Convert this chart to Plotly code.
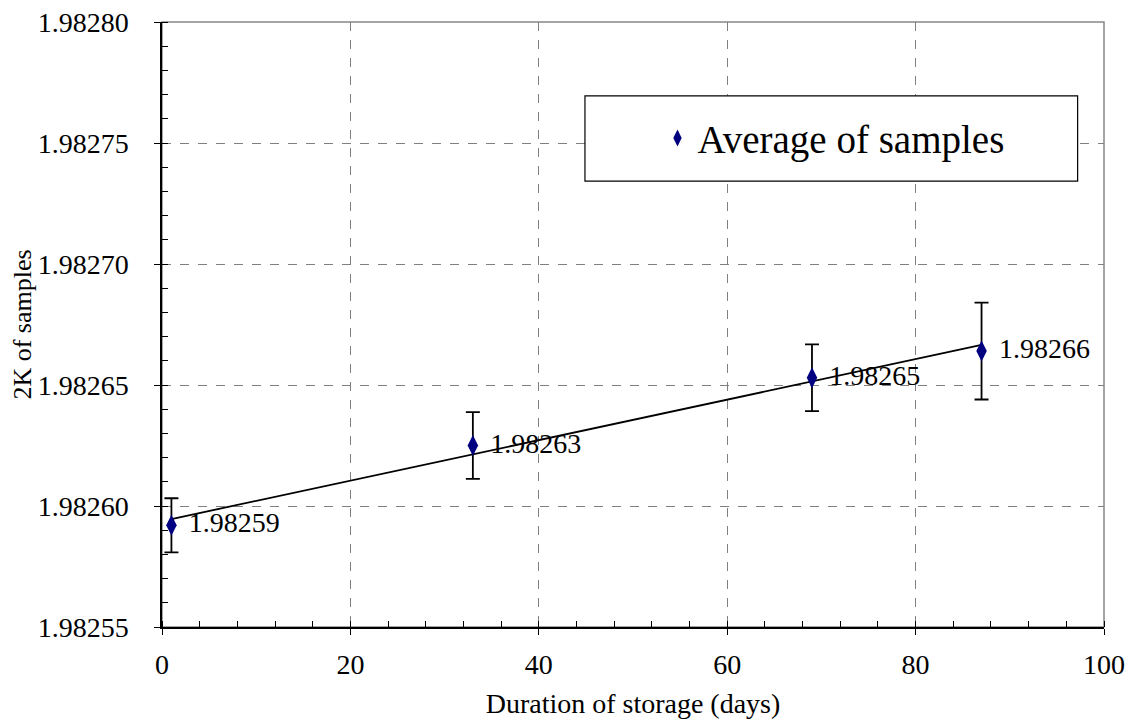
import numpy as np
import plotly.graph_objects as go

days = [1, 33, 69, 87]
avg_2k = [1.982592, 1.982625, 1.982653, 1.982664]
err_2k = [0.0000112, 0.0000138, 0.0000138, 0.0000200]
point_labels = ["1.98259", "1.98263", "1.98265", "1.98266"]
series_name = "Average of samples"

# linear trendline (least squares) over the data
coef = np.polyfit(days, avg_2k, 1)
trend_x = [days[0], days[-1]]
trend_y = list(np.polyval(coef, trend_x))

FONT = "'Liberation Serif', 'Times New Roman', 'DejaVu Serif', serif"

fig = go.Figure()
fig.add_trace(go.Scatter(
    x=trend_x, y=trend_y, mode="lines",
    line=dict(color="black", width=1.8), showlegend=False, hoverinfo="skip"))
fig.add_trace(go.Scatter(
    x=days, y=avg_2k, mode="markers+text", name=series_name,
    text=[" " + t for t in point_labels], textposition="middle right",
    textfont=dict(family=FONT, size=28, color="black"),
    marker=dict(symbol="diamond-tall", size=15, color="#000080"),
    error_y=dict(type="data", array=err_2k, visible=True,
                 color="black", thickness=1.8, width=7)))

# plot border (top/right grey) and legend box
fig.add_shape(type="rect", xref="paper", yref="paper", x0=0, x1=1, y0=0, y1=1,
              line=dict(color="#888888", width=1.5), layer="below")
fig.add_shape(type="rect", xref="paper", yref="paper",
              x0=0.449, x1=0.972, y0=0.737, y1=0.878,
              line=dict(color="black", width=1.2), fillcolor="white", layer="above")

axis_common = dict(
    showline=True, linecolor="black", linewidth=1.5,
    showgrid=True, gridcolor="#808080", griddash="dash", gridwidth=1,
    ticks="outside", ticklen=6, tickcolor="black", tickwidth=1.2,
    zeroline=False, tickfont=dict(family=FONT, size=28, color="black"),
    ticklabeloverflow="allow", automargin=False,
)

fig.update_xaxes(
    range=[0, 100], tick0=0, dtick=20,
    title=dict(text="Duration of storage (days)", font=dict(family=FONT, size=28, color="black"), standoff=14),
    minor=dict(dtick=4, ticks="inside", ticklen=6, tickcolor="black", showgrid=False),
    ticklabelstandoff=6,
    **axis_common)
fig.update_yaxes(
    range=[1.98255, 1.98280], tick0=1.98255, dtick=0.00005, tickformat=".5f",
    title=dict(text="2K of samples", font=dict(family=FONT, size=26, color="black"), standoff=8),
    minor=dict(dtick=0.00001, ticks="inside", ticklen=6, tickcolor="black", showgrid=False),
    ticklabelstandoff=20,
    **axis_common)

fig.update_layout(
    width=1134, height=723,
    margin=dict(l=154, r=38, t=14, b=104),
    paper_bgcolor="white", plot_bgcolor="white",
    font=dict(family=FONT, color="black"),
    showlegend=True,
    legend=dict(x=0.526, y=0.808, xanchor="left", yanchor="middle",
                bgcolor="rgba(0,0,0,0)", borderwidth=0,
                font=dict(family=FONT, size=39, color="black"),
                itemsizing="constant"),
)

fig.write_html("out.html")
